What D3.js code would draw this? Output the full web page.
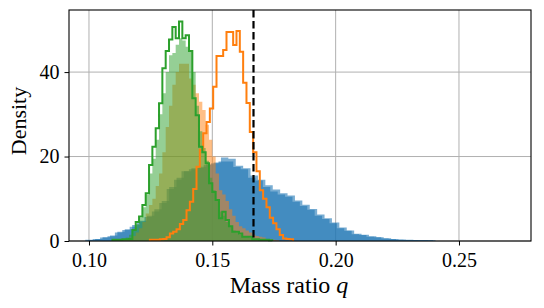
<!DOCTYPE html>
<html>
<head>
<meta charset="utf-8">
<script src="https://cdn.jsdelivr.net/npm/d3@7"></script>
<style>
  body { margin: 0; background: #fff; }
  text { font-family: "Liberation Serif", serif; fill: #000; }
</style>
</head>
<body>
<script>
// tick labels
const qTicks = [0.10, 0.15, 0.20, 0.25]
const densityTicks = [0, 20, 40]
const qTrue = 0.1667

// filled histograms (bin start, bin width, densities)
const blueAStart = 0.0985, blueAWidth = 0.003
const blueA = [0.3,0.5,0.8,1.1,2.0,2.6,3.4,4.6,5.7,7.0, 9.0,12.3,14.5,16.5,17,17.3,18,18.4,18.8,18.8,
  17.5,17,15,14.3,12.8,11.7,11,10.5,9.3,8.3, 7.4,6.0,5.2,4.2,3.0,2.4,1.6,1.4,1.0,0.9,
  0.6,0.45,0.3,0.25,0.25,0.2,0.2]
const blueBStart = 0.0995, blueBWidth = 0.003
const blueB = [0.2,0.5,0.9,1.3,2.2,2.8,3.8,4.8,6.0,7.5, 9.5,12.8,15,16.5,17.2,17.6,18.2,18.6,19.8,19.5,
  17.8,17.2,15.5,14.5,13.2,12.2,11.3,10.8,9.6,8.6, 7.6,6.3,5.4,4.4,3.2,2.5,1.7,1.5,1.1,0.9,
  0.65,0.5,0.35,0.3,0.25,0.22,0.2]

const fillStart = 0.1095, fillWidth = 0.00135
const orangeFill = [0.2,0.2,0.3,0.4,0.5,0.8,1.2,2,3,4.5, 6.5,8.5,10,13,16,21,27,32,37,40,
  42,42,42,38.5,37,35,33,31,27.5,24, 20,16,12,11,9.5,7.5,6,4.5,3.5,3,
  2.5,2,1.5,1.2,1,0.8,0.5,0.4,0.3,0.2]
const greenFill = [0.3,0.3,0.4,0.5,0.8,1.5,2.5,4,5.5,8, 11,16,19.5,24,30,35,40,44,44.5,46.5,
  48,47.5,46,45,40,32,26,22,19,15, 12,9.5,7,6,4.5,3.5,2.5,2,1.5,1.2,
  1,0.8,0.5,0.4,0.3,0.3,0.2,0.2]

// step outlines
const greenStepStart = 0.1095, greenStepWidth = 0.00135
const greenStep = [0.3,0.3,0.3,0.4,0.4,0.5,2.6,4.5,5.8,8.5, 11.3,18,22.3,26.7,32.6,40.9,45,47.7,50.7,48,
  52,48,48.7,45,33.8,29.8,22.3,21,18.4,13.7, 11.6,9.7,5.4,6.9,5,3.5,2.2,2.2,1.8,1.0,
  1.0,1.0,0.4,0.4,0.3,0.3,0.3,0.2]
const orangeStepStart = 0.1247, orangeStepWidth = 0.00135
const orangeStep = [0.3,0.3,0.3,0.4,0.5,0.9,1.8,2.2,2.8,4, 5,7.3,9.3,12.3,17.6,21.6,25.5,28.2,31.4,36.5,
  43.8,43.8,45.2,49.5,49.5,46.4,49.7,44.8,37.5,32.7, 25.8,21,16.5,12,10,8,5.5,4.2,2.8,1.4,
  0.6,0.5,0.4]

const w = 544
const h = 308
const margin = {left: 69, right: 13, top: 10, bottom: 67}

const svg = d3.select("body")
  .append("svg")
  .attr("width", w)
  .attr("height", h)

const xScale = d3.scaleLinear()
  .domain([0.0919, 0.2792])
  .range([margin.left, w - margin.right])

const yScale = d3.scaleLinear()
  .domain([0, 54.7])
  .range([h - margin.bottom, margin.top])

// grid
svg.append("g")
  .selectAll("line.vx")
  .data(qTicks)
  .enter()
  .append("line")
  .attr("x1", d => xScale(d)).attr("x2", d => xScale(d))
  .attr("y1", margin.top).attr("y2", h - margin.bottom)
  .attr("stroke", "#b0b0b0").attr("stroke-width", 1)
svg.append("g")
  .selectAll("line.hy")
  .data(densityTicks)
  .enter()
  .append("line")
  .attr("x1", margin.left).attr("x2", w - margin.right)
  .attr("y1", d => yScale(d)).attr("y2", d => yScale(d))
  .attr("stroke", "#b0b0b0").attr("stroke-width", 1)

// turn a histogram into step points
function steps(start, width, vals) {
  const pts = vals.map((v, i) => ({x: start + i * width, y: v}))
  pts.push({x: start + vals.length * width, y: vals[vals.length - 1]})
  return pts
}

const area = d3.area()
  .curve(d3.curveStepAfter)
  .x(d => xScale(d.x))
  .y0(yScale(0))
  .y1(d => yScale(d.y))

const line = d3.line()
  .curve(d3.curveStepAfter)
  .x(d => xScale(d.x))
  .y(d => yScale(d.y))

function outline(start, width, vals) {
  const pts = [{x: start, y: 0}]
  vals.forEach((v, i) => pts.push({x: start + i * width, y: v}))
  pts.push({x: start + vals.length * width, y: 0})
  return pts
}

const plot = svg.append("g")

plot.append("path").attr("d", area(steps(blueAStart, blueAWidth, blueA)))
  .attr("fill", "#1f77b4").attr("fill-opacity", 0.6)
plot.append("path").attr("d", area(steps(blueBStart, blueBWidth, blueB)))
  .attr("fill", "#1f77b4").attr("fill-opacity", 0.6)
plot.append("path").attr("d", area(steps(fillStart, fillWidth, orangeFill)))
  .attr("fill", "#ff7f0e").attr("fill-opacity", 0.5)
plot.append("path").attr("d", area(steps(fillStart, fillWidth, greenFill)))
  .attr("fill", "#2ca02c").attr("fill-opacity", 0.5)

plot.append("path").attr("d", line(outline(orangeStepStart, orangeStepWidth, orangeStep)))
  .attr("fill", "none").attr("stroke", "#ff7f0e").attr("stroke-width", 2)
  .attr("stroke-linejoin", "miter")
plot.append("path").attr("d", line(outline(greenStepStart, greenStepWidth, greenStep)))
  .attr("fill", "none").attr("stroke", "#2ca02c").attr("stroke-width", 2)
  .attr("stroke-linejoin", "miter")

// true value
plot.append("line")
  .attr("x1", xScale(qTrue)).attr("x2", xScale(qTrue))
  .attr("y1", margin.top).attr("y2", h - margin.bottom)
  .attr("stroke", "#000").attr("stroke-width", 2.2)
  .attr("stroke-dasharray", "7.5,3.5")

// axes
const xAxis = d3.axisBottom(xScale).tickValues(qTicks).tickFormat(d3.format(".2f")).tickSize(4.5).tickPadding(7)
svg.append("g")
  .attr("id", "x-axis")
  .attr("transform", "translate(0, " + (h - margin.bottom) + ")")
  .call(xAxis)
const yAxis = d3.axisLeft(yScale).tickValues(densityTicks).tickFormat(d3.format("d")).tickSize(4.5).tickPadding(5)
svg.append("g")
  .attr("id", "y-axis")
  .attr("transform", "translate(" + margin.left + ", 0)")
  .call(yAxis)

svg.selectAll(".domain").remove()
svg.selectAll(".tick line").attr("stroke", "#000").attr("stroke-width", 1)
svg.selectAll(".tick text")
  .style("font-family", "'Liberation Serif', serif")
  .style("font-size", "20px")

// frame
svg.append("rect")
  .attr("x", margin.left).attr("y", margin.top)
  .attr("width", w - margin.left - margin.right)
  .attr("height", h - margin.top - margin.bottom)
  .attr("fill", "none").attr("stroke", "#000").attr("stroke-width", 1.1)

// labels
const xl = svg.append("text")
  .attr("x", 289)
  .attr("y", 293)
  .attr("text-anchor", "middle")
  .style("font-size", "24px")
xl.append("tspan").text("Mass ratio ")
xl.append("tspan").style("font-style", "italic").text("q")

svg.append("text")
  .attr("transform", "translate(26, 121) rotate(-90)")
  .attr("text-anchor", "middle")
  .style("font-size", "22px")
  .text("Density")
</script>
</body>
</html>
